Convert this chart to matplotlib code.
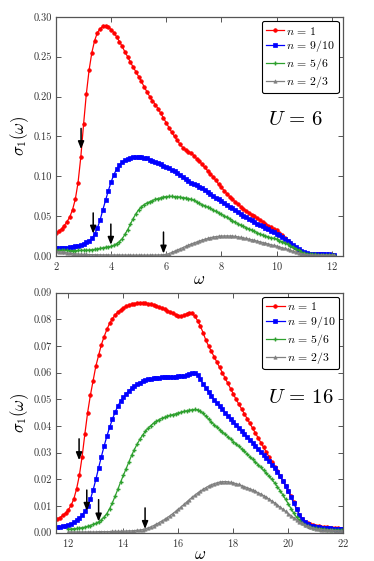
import numpy as np
import matplotlib
matplotlib.use("Agg")
import matplotlib.pyplot as plt
from matplotlib.ticker import FormatStrFormatter, MultipleLocator

plt.rcParams['font.family'] = 'serif'
plt.rcParams['font.serif'] = ['cmr10', 'DejaVu Serif']
plt.rcParams['mathtext.fontset'] = 'cm'
plt.rcParams['axes.formatter.use_mathtext'] = True

labels = [r'$n\,=\,1$', r'$n\,=\,9/10$', r'$n\,=\,5/6$', r'$n\,=\,2/3$']

# ---------------- U = 6 (omega from 2.0, step 0.1) ----------------
top_start = 2.0
top_red = [0.029, 0.031, 0.034, 0.038, 0.043, 0.049, 0.058, 0.071, 0.092, 0.124,
           0.165, 0.203, 0.233, 0.255, 0.270, 0.280, 0.285, 0.288, 0.289, 0.287,
           0.284, 0.280, 0.275, 0.269, 0.263, 0.256, 0.250, 0.243, 0.237, 0.231,
           0.225, 0.219, 0.212, 0.206, 0.200, 0.195, 0.190, 0.185, 0.179, 0.173,
           0.167, 0.161, 0.155, 0.150, 0.145, 0.140, 0.136, 0.133, 0.131, 0.129,
           0.126, 0.122, 0.119, 0.115, 0.111, 0.107, 0.103, 0.099, 0.095, 0.090,
           0.086, 0.082, 0.078, 0.0745, 0.071, 0.068, 0.065, 0.062, 0.059, 0.057,
           0.0545, 0.052, 0.050, 0.0475, 0.045, 0.0428, 0.0405, 0.038, 0.0358, 0.0338,
           0.032, 0.029, 0.026, 0.0225, 0.019, 0.016, 0.013, 0.010, 0.0075, 0.0055,
           0.004, 0.003, 0.0025, 0.0022, 0.002, 0.002, 0.0019, 0.0018, 0.0017, 0.0016,
           0.0015, 0.0015]
top_blue = [0.010, 0.010, 0.010, 0.010, 0.0105, 0.011, 0.0115, 0.012, 0.013, 0.014,
            0.0155, 0.017, 0.019, 0.022, 0.027, 0.035, 0.045, 0.058, 0.070, 0.082,
            0.093, 0.102, 0.109, 0.114, 0.118, 0.1205, 0.122, 0.1232, 0.124, 0.1245,
            0.1245, 0.124, 0.1233, 0.1225, 0.121, 0.1195, 0.118, 0.1165, 0.115, 0.1135,
            0.112, 0.110, 0.108, 0.106, 0.1035, 0.101, 0.0985, 0.096, 0.094, 0.092,
            0.0905, 0.089, 0.087, 0.0848, 0.0825, 0.080, 0.078, 0.0757, 0.0733, 0.0712,
            0.069, 0.0666, 0.0642, 0.062, 0.0597, 0.0574, 0.055, 0.0528, 0.0507, 0.0487,
            0.0467, 0.0447, 0.0427, 0.0407, 0.0388, 0.037, 0.0352, 0.0335, 0.0318, 0.030,
            0.028, 0.026, 0.024, 0.0215, 0.019, 0.0165, 0.014, 0.0115, 0.009, 0.0065,
            0.0045, 0.0033, 0.0027, 0.0024, 0.0022, 0.0021, 0.002, 0.002, 0.0019, 0.0019,
            0.0018, 0.0018]
top_green = [0.0075, 0.0073, 0.0071, 0.007, 0.0069, 0.0068, 0.0068, 0.0068, 0.0069, 0.007,
             0.0071, 0.0073, 0.0075, 0.0078, 0.0082, 0.0087, 0.0094, 0.0102, 0.011, 0.0115,
             0.012, 0.0135, 0.0155, 0.018, 0.0215, 0.027, 0.033, 0.040, 0.047, 0.053,
             0.058, 0.0618, 0.0645, 0.0665, 0.068, 0.0695, 0.071, 0.072, 0.073, 0.074,
             0.0745, 0.0747, 0.0747, 0.0745, 0.0742, 0.0738, 0.0733, 0.0727, 0.072, 0.0711,
             0.070, 0.068, 0.066, 0.0645, 0.063, 0.0614, 0.0597, 0.0578, 0.056, 0.0542,
             0.0523, 0.0505, 0.0485, 0.0465, 0.0445, 0.0425, 0.0405, 0.0388, 0.0372, 0.0356,
             0.034, 0.0325, 0.031, 0.0292, 0.0276, 0.0264, 0.0252, 0.024, 0.023, 0.022,
             0.0208, 0.0194, 0.018, 0.0163, 0.0146, 0.013, 0.011, 0.009, 0.007, 0.005,
             0.0035, 0.0027, 0.0022, 0.002, 0.0019, 0.0018, 0.0017, 0.0017, 0.0016, 0.0016,
             0.0015, 0.0015]
top_gray = [0.006, 0.0055, 0.005, 0.0045, 0.004, 0.0035, 0.003, 0.0027, 0.0024, 0.0022,
            0.002, 0.0019, 0.0018, 0.0017, 0.0016, 0.0015, 0.0015, 0.0014, 0.0014, 0.0013,
            0.0013, 0.0013, 0.0012, 0.0012, 0.0012, 0.0012, 0.0011, 0.0011, 0.0011, 0.0011,
            0.0011, 0.0011, 0.0011, 0.0011, 0.0011, 0.0012, 0.0012, 0.0013, 0.0014, 0.0016,
            0.002, 0.003, 0.0045, 0.006, 0.0075, 0.009, 0.0105, 0.012, 0.0135, 0.015,
            0.0163, 0.0175, 0.0188, 0.020, 0.021, 0.022, 0.023, 0.0237, 0.0243, 0.0247,
            0.025, 0.0251, 0.0252, 0.0251, 0.025, 0.0245, 0.024, 0.0234, 0.0227, 0.022,
            0.0212, 0.0204, 0.0195, 0.0187, 0.0178, 0.0169, 0.016, 0.0151, 0.0142, 0.0133,
            0.0124, 0.0114, 0.0104, 0.0094, 0.0083, 0.0072, 0.0061, 0.005, 0.004, 0.003,
            0.0023, 0.0018, 0.0015, 0.0013, 0.0012, 0.0011, 0.0011, 0.001, 0.001, 0.001,
            0.001, 0.001]
top_arrows_w = [2.91, 3.35, 3.99, 5.90]
top_arrows_y0 = [0.160, 0.054, 0.040, 0.030]
top_arrows_y1 = [0.134, 0.028, 0.014, 0.003]

# ---------------- U = 16 ----------------
bot_start_rb = 11.6
bot_start_gg = 12.0
bot_red = [0.0052, 0.0057, 0.0065, 0.0074, 0.0086, 0.0103, 0.0127, 0.0165, 0.0215, 0.0285,
           0.0370, 0.0450, 0.0515, 0.0570, 0.0625, 0.0665, 0.0705, 0.0735, 0.0762, 0.0785,
           0.0802, 0.0816, 0.0827, 0.0836, 0.0843, 0.0849, 0.0853, 0.0857, 0.0859, 0.0861,
           0.0862, 0.0862, 0.0861, 0.0859, 0.0857, 0.0854, 0.0850, 0.0846, 0.0841, 0.0837,
           0.0833, 0.0828, 0.0823, 0.0818, 0.0813, 0.0812, 0.0815, 0.0821, 0.0825, 0.0822,
           0.0812, 0.0795, 0.0775, 0.0750, 0.0722, 0.0700, 0.0680, 0.0660, 0.0640, 0.0620,
           0.0600, 0.0580, 0.0560, 0.0540, 0.0520, 0.0500, 0.0482, 0.0464, 0.0446, 0.0428,
           0.0410, 0.0392, 0.0374, 0.0356, 0.0338, 0.0320, 0.0302, 0.0284, 0.0266, 0.0248,
           0.0230, 0.0212, 0.0194, 0.0176, 0.0158, 0.0138, 0.0115, 0.0090, 0.0068, 0.0052,
           0.0042, 0.0035, 0.0031, 0.0028, 0.0026, 0.0024, 0.0022, 0.0021, 0.0020, 0.0019,
           0.0018, 0.0017, 0.0016, 0.0015, 0.0014]
bot_blue = [0.0021, 0.0022, 0.0024, 0.0026, 0.0029, 0.0033, 0.0039, 0.0047, 0.0056, 0.0067,
            0.0080, 0.0100, 0.0125, 0.0160, 0.0200, 0.0243, 0.0285, 0.0325, 0.0362, 0.0395,
            0.0425, 0.0452, 0.0475, 0.0493, 0.0508, 0.0521, 0.0532, 0.0542, 0.0550, 0.0557,
            0.0563, 0.0568, 0.0572, 0.0575, 0.0577, 0.0579, 0.0580, 0.0581, 0.0582, 0.0583,
            0.0583, 0.0584, 0.0584, 0.0585, 0.0586, 0.0587, 0.0589, 0.0592, 0.0596, 0.0599,
            0.0598, 0.0590, 0.0575, 0.0558, 0.0542, 0.0527, 0.0512, 0.0498, 0.0486, 0.0474,
            0.0462, 0.0450, 0.0438, 0.0426, 0.0414, 0.0403, 0.0392, 0.0381, 0.0370, 0.0359,
            0.0348, 0.0337, 0.0326, 0.0315, 0.0304, 0.0292, 0.0280, 0.0268, 0.0255, 0.0242,
            0.0228, 0.0212, 0.0195, 0.0176, 0.0155, 0.0133, 0.0110, 0.0088, 0.0068, 0.0052,
            0.0040, 0.0032, 0.0027, 0.0024, 0.0022, 0.0020, 0.0019, 0.0018, 0.0017, 0.0016,
            0.0015, 0.0014, 0.0014, 0.0013, 0.0013]
bot_green = [0.0013, 0.0014, 0.0015, 0.0016, 0.0017, 0.0019, 0.0021, 0.0024, 0.0027, 0.0031,
             0.0035, 0.0041, 0.0048, 0.0058, 0.0072, 0.0090, 0.0112, 0.0137, 0.0163, 0.0190,
             0.0215, 0.0240, 0.0265, 0.0290, 0.0312, 0.0332, 0.0350, 0.0366, 0.0380, 0.0392,
             0.0402, 0.0411, 0.0418, 0.0424, 0.0429, 0.0433, 0.0437, 0.0440, 0.0443, 0.0446,
             0.0449, 0.0452, 0.0455, 0.0457, 0.0459, 0.0461, 0.0462, 0.0461, 0.0456, 0.0447,
             0.0437, 0.0426, 0.0415, 0.0405, 0.0396, 0.0387, 0.0378, 0.0369, 0.0360, 0.0351,
             0.0342, 0.0333, 0.0324, 0.0315, 0.0305, 0.0295, 0.0285, 0.0275, 0.0265, 0.0255,
             0.0245, 0.0234, 0.0223, 0.0212, 0.0200, 0.0187, 0.0173, 0.0158, 0.0142, 0.0125,
             0.0108, 0.0090, 0.0073, 0.0058, 0.0046, 0.0037, 0.0030, 0.0025, 0.0022, 0.0019,
             0.0017, 0.0015, 0.0014, 0.0013, 0.0012, 0.0011, 0.0011, 0.0010, 0.0010, 0.0009,
             0.0009]
bot_gray = [0.0003, 0.0003, 0.0003, 0.0003, 0.0003, 0.0003, 0.0003, 0.0003, 0.0003, 0.0003,
            0.0003, 0.0004, 0.0004, 0.0004, 0.0004, 0.0004, 0.0005, 0.0005, 0.0005, 0.0005,
            0.0006, 0.0006, 0.0007, 0.0007, 0.0008, 0.0009, 0.0010, 0.0012, 0.0015, 0.0018,
            0.0022, 0.0027, 0.0032, 0.0038, 0.0044, 0.0050, 0.0057, 0.0064, 0.0072, 0.0080,
            0.0088, 0.0097, 0.0106, 0.0115, 0.0124, 0.0133, 0.0141, 0.0149, 0.0156, 0.0163,
            0.0169, 0.0175, 0.0180, 0.0184, 0.0187, 0.0190, 0.0191, 0.0192, 0.0191, 0.0189,
            0.0187, 0.0184, 0.0181, 0.0177, 0.0173, 0.0169, 0.0165, 0.0160, 0.0155, 0.0150,
            0.0145, 0.0139, 0.0133, 0.0126, 0.0119, 0.0112, 0.0104, 0.0096, 0.0088, 0.0080,
            0.0072, 0.0064, 0.0056, 0.0049, 0.0042, 0.0036, 0.0030, 0.0025, 0.0021, 0.0018,
            0.0015, 0.0013, 0.0012, 0.0011, 0.0010, 0.0009, 0.0009, 0.0008, 0.0008, 0.0007,
            0.0007]
bot_arrows_w = [12.39, 12.67, 13.10, 14.79]
bot_arrows_y0 = [0.0352, 0.0160, 0.0124, 0.0093]
bot_arrows_y1 = [0.0272, 0.0082, 0.0042, 0.0014]

colors = ['#ff0000', '#0000ff', '#2ea02e', '#808080']
markers = ['o', 's', '+', '^']
msizes = [2.6, 2.6, 3.2, 2.4]


def grid(start, vals):
    return start + 0.1 * np.arange(len(vals))


fig = plt.figure(figsize=(3.74, 5.61), dpi=100)
ax1 = fig.add_axes([0.1497, 0.5437, 0.7673, 0.4263])
ax2 = fig.add_axes([0.1497, 0.0504, 0.7683, 0.4279])

spine_col = '#555555'


def style(ax):
    for s in ax.spines.values():
        s.set_color(spine_col)
        s.set_linewidth(0.9)
    ax.tick_params(direction='in', top=True, right=True, length=3.5, width=0.7,
                   color=spine_col, labelsize=7.5, labelcolor='#333333', pad=3)


top_series = [(top_start, top_red), (top_start, top_blue), (top_start, top_green), (top_start, top_gray)]
bot_series = [(bot_start_rb, bot_red), (bot_start_rb, bot_blue), (bot_start_gg, bot_green), (bot_start_gg, bot_gray)]

for ax, series in ((ax1, top_series), (ax2, bot_series)):
    for (st, v), c, m, ms, lab in zip(series, colors, markers, msizes, labels):
        ax.plot(grid(st, v), v, color=c, marker=m, markersize=ms, lw=0.9,
                markeredgewidth=1.0 if m == '+' else 0.5, label=lab)
    style(ax)
    leg = ax.legend(loc='upper right', fontsize=8.5, numpoints=1, handlelength=1.6,
                    handletextpad=0.15, borderpad=0.3, labelspacing=0.15,
                    borderaxespad=0.35, fancybox=True, framealpha=1, edgecolor='black')
    leg.get_frame().set_linewidth(0.8)
    ax.set_ylabel(r'$\sigma_1(\omega)$', fontsize=12, labelpad=2)

ax1.set_xlabel(r'$\omega$', fontsize=12, labelpad=0)
ax2.set_xlabel(r'$\omega$', fontsize=12, labelpad=-1.5)

# top axes
ax1.set_xlim(2, 12.41)
ax1.set_ylim(0, 0.30)
ax1.xaxis.set_major_locator(MultipleLocator(2))
ax1.yaxis.set_major_locator(MultipleLocator(0.05))
ax1.yaxis.set_major_formatter(FormatStrFormatter('%.2f'))
ax1.text(10.7, 0.170, r'$U\,=\,6$', fontsize=15, ha='center', va='center')
for w, y0, y1 in zip(top_arrows_w, top_arrows_y0, top_arrows_y1):
    ax1.annotate('', xy=(w, y1), xytext=(w, y0),
                 arrowprops=dict(arrowstyle='-|>,head_length=0.45,head_width=0.18',
                                 color='black', lw=1.1, shrinkA=0, shrinkB=0))

# bottom axes
ax2.set_xlim(11.55, 22)
ax2.set_ylim(0, 0.09)
ax2.xaxis.set_major_locator(MultipleLocator(2))
ax2.yaxis.set_major_locator(MultipleLocator(0.01))
ax2.yaxis.set_major_formatter(FormatStrFormatter('%.2f'))
ax2.text(20.45, 0.0505, r'$U\,=\,16$', fontsize=15, ha='center', va='center')
for w, y0, y1 in zip(bot_arrows_w, bot_arrows_y0, bot_arrows_y1):
    ax2.annotate('', xy=(w, y1), xytext=(w, y0),
                 arrowprops=dict(arrowstyle='-|>,head_length=0.45,head_width=0.18',
                                 color='black', lw=1.1, shrinkA=0, shrinkB=0))

fig.savefig('out.png', dpi=100)
